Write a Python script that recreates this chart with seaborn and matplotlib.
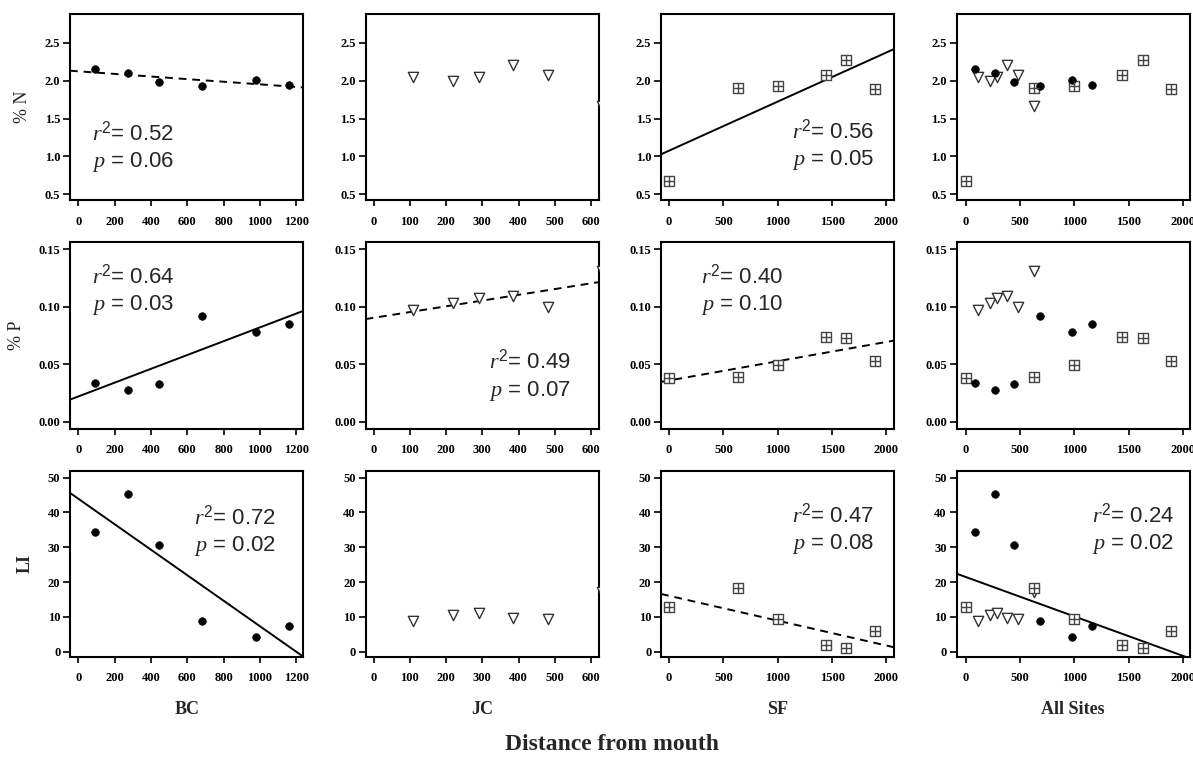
import numpy as np
import pandas as pd
import matplotlib
matplotlib.use('Agg')
import matplotlib.pyplot as plt
import seaborn as sns

# site data (distance from mouth, %N, %P, LI)
bc_dist = [90, 275, 445, 680, 980, 1160]
bc_n = [2.16, 2.10, 1.98, 1.93, 2.01, 1.94]
bc_p = [0.034, 0.028, 0.033, 0.092, 0.078, 0.085]
bc_li = [34.5, 45.2, 30.7, 8.9, 4.3, 7.3]

jc_dist = [110, 220, 290, 385, 480, 630]
jc_n = [2.05, 2.00, 2.05, 2.21, 2.07, 1.66]
jc_p = [0.097, 0.103, 0.108, 0.109, 0.100, 0.131]
jc_li = [8.8, 10.6, 11.0, 9.8, 9.3, 17.3]

sf_dist = [0, 630, 1000, 1440, 1630, 1890]
sf_n = [0.67, 1.90, 1.93, 2.07, 2.27, 1.89]
sf_p = [0.038, 0.039, 0.049, 0.074, 0.073, 0.053]
sf_li = [12.8, 18.3, 9.3, 2.0, 1.0, 6.0]

col_labels = ['BC', 'JC', 'SF', 'All Sites']
row_vars = ['N', 'P', 'LI']
row_labels = ['% N', '% P', 'LI']

# regression annotations: (row, col) -> (r2, p, x, y, line style)
stats = {
    (0, 0): ('0.52', '0.06', 0.095, 0.36, '--'),
    (0, 2): ('0.56', '0.05', 0.56, 0.37, '-'),
    (1, 0): ('0.64', '0.03', 0.095, 0.82, '-'),
    (1, 1): ('0.49', '0.07', 0.53, 0.36, '--'),
    (1, 2): ('0.40', '0.10', 0.17, 0.82, '--'),
    (2, 0): ('0.72', '0.02', 0.53, 0.75, '-'),
    (2, 2): ('0.47', '0.08', 0.56, 0.76, '--'),
    (2, 3): ('0.24', '0.02', 0.58, 0.76, '-'),
}

frames = []
for site, d, n, p, li in [('BC', bc_dist, bc_n, bc_p, bc_li),
                          ('JC', jc_dist, jc_n, jc_p, jc_li),
                          ('SF', sf_dist, sf_n, sf_p, sf_li)]:
    frames.append(pd.DataFrame({'site': site, 'dist': d, 'N': n, 'P': p, 'LI': li}))
df = pd.concat(frames, ignore_index=True)

sns.set_theme(style='white')
plt.rcParams['font.family'] = ['Liberation Serif', 'DejaVu Serif']
plt.rcParams['mathtext.fontset'] = 'custom'
plt.rcParams['mathtext.it'] = 'Liberation Serif:italic'
plt.rcParams['mathtext.rm'] = 'Liberation Sans'

xlims = [(-45, 1240), (-22, 622), (-74, 2074), (-83, 2065)]
xticks = [np.arange(0, 1201, 200), np.arange(0, 601, 100),
          np.arange(0, 2001, 500), np.arange(0, 2001, 500)]
ylims = [(0.42, 2.88), (-0.006, 0.156), (-1.5, 52)]
yticks = [[0.5, 1.0, 1.5, 2.0, 2.5], [0.0, 0.05, 0.10, 0.15], [0, 10, 20, 30, 40, 50]]
ytick_fmt = ['{:.1f}', '{:.2f}', '{:.0f}']

fig, axes = plt.subplots(3, 4, figsize=(11.93, 7.58), dpi=100)
fig.subplots_adjust(left=0.0587, right=0.9975, top=0.9815, bottom=0.1332,
                    wspace=0.266, hspace=0.225)

styles = {
    'JC': dict(marker='v', s=55, facecolor='white', edgecolor='#333333', linewidth=1.0),
    'SF': dict(marker='s', s=48, facecolor='white', edgecolor='#444444', linewidth=1.0),
    'BC': dict(marker='o', s=30, color='black', edgecolor='black', linewidth=0.5),
}

for r, var in enumerate(row_vars):
    for c, col in enumerate(col_labels):
        ax = axes[r, c]
        sub = df if col == 'All Sites' else df[df['site'] == col]
        ax.set_xlim(*xlims[c])
        ax.set_ylim(*ylims[r])

        for site in ['JC', 'SF', 'BC']:
            d = sub[sub['site'] == site]
            if d.empty:
                continue
            sns.scatterplot(data=d, x='dist', y=var, ax=ax, legend=False,
                            zorder=3, clip_on=True, **styles[site])
            if site == 'SF':
                sns.scatterplot(data=d, x='dist', y=var, ax=ax, legend=False,
                                marker='+', s=48, color='#444444', linewidth=1.0, zorder=4)

        if (r, c) in stats:
            r2, pv, tx, ty, ls = stats[(r, c)]
            sns.regplot(data=sub, x='dist', y=var, ax=ax, scatter=False, ci=None,
                        truncate=False, color='black',
                        line_kws=dict(linewidth=1.4, linestyle=ls, dashes=(4, 3)) if ls == '--'
                        else dict(linewidth=1.4))
            ax.text(tx, ty, r'$r^{2}$= ' + r2, transform=ax.transAxes, fontsize=16,
                    family='Liberation Sans', va='center', ha='left')
            ax.text(tx, ty - 0.155, r'$p$ = ' + pv, transform=ax.transAxes, fontsize=16,
                    family='Liberation Sans', va='center', ha='left')

        ax.set_xlim(*xlims[c])
        ax.set_ylim(*ylims[r])
        ax.set_xticks(xticks[c])
        ax.set_xticklabels([str(v) for v in xticks[c]], fontsize=9, fontweight='bold')
        ax.set_yticks(yticks[r])
        ax.set_yticklabels([ytick_fmt[r].format(v) for v in yticks[r]], fontsize=9,
                           fontweight='bold')
        ax.tick_params(axis='x', direction='out', length=4, width=1.2, pad=7,
                       bottom=True, colors='black')
        ax.tick_params(axis='y', direction='out', length=5, width=1.2, pad=2,
                       left=True, colors='black')
        for sp in ax.spines.values():
            sp.set_color('black')
            sp.set_linewidth(1.5)
        ax.set_xlabel('')
        ax.set_ylabel('')
        if c == 0:
            ax.set_ylabel(row_labels[r], fontsize=13,
                          fontweight='bold' if var == 'LI' else 'normal', labelpad=10)
        if r == 2:
            ax.set_xlabel(col, fontsize=13, fontweight='bold', labelpad=12)

fig.text(0.513, 0.004, 'Distance from mouth', ha='center', va='bottom',
         fontsize=17, fontweight='bold')

fig.savefig('out.png', dpi=100, facecolor='white')
